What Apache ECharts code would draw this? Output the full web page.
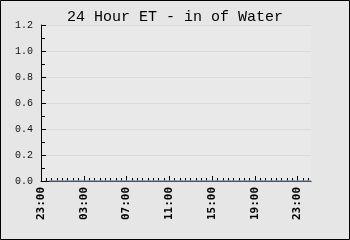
<!DOCTYPE html>
<html>
<head>
<meta charset="utf-8">
<script src="https://cdn.jsdelivr.net/npm/echarts@6/dist/echarts.min.js"></script>
<style>
html,body{margin:0;padding:0;background:#e6e6e6;}
#c{width:350px;height:240px;}
</style>
</head>
<body>
<div id="c"></div>
<script>
// Hours elapsed since 23:00 (axis start)
const timeHours = [0.75, 1.75, 2.75, 3.75, 4.75, 5.75, 6.75, 7.75, 8.75, 9.75, 10.75, 11.75, 12.75,
  13.75, 14.75, 15.75, 16.75, 17.75, 18.75, 19.75, 20.75, 21.75, 22.75, 23.75, 24.75, 25.25];
const etValues = [0, 0, 0, 0, 0, 0, 0, 0, 0, 0, 0, 0, 0,
  0, 0, 0, 0, 0, 0, 0, 0, 0, 0, 0, 0, 0];
const labelHours = [0, 4, 8, 12, 16, 20, 24];
const labelTexts = ['23:00', '03:00', '07:00', '11:00', '15:00', '19:00', '23:00'];
const minorTickHours = [0, 0.5, 1, 1.5, 2, 2.5, 3, 3.5, 4, 4.5, 5, 5.5, 6, 6.5, 7, 7.5, 8, 8.5, 9, 9.5,
  10, 10.5, 11, 11.5, 12, 12.5, 13, 13.5, 14, 14.5, 15, 15.5, 16, 16.5, 17, 17.5, 18, 18.5, 19, 19.5,
  20, 20.5, 21, 21.5, 22, 22.5, 23, 23.5, 24, 24.5, 25];
const xMin = 0, xMax = 25.25;
const yMin = 0, yMax = 1.2, yStep = 0.2;

const chart = echarts.init(document.getElementById('c'), null, {renderer: 'canvas'});
const mono = 'Liberation Mono, DejaVu Sans Mono, monospace';
chart.setOption({
  backgroundColor: '#e6e6e6',
  animation: false,
  title: {
    text: '24 Hour ET - in of Water',
    left: 'center', top: 5,
    textStyle: {fontFamily: mono, fontSize: 15, fontWeight: 'normal', color: '#000'}
  },
  grid: {left: 41, right: 39, top: 25, bottom: 59, show: true, backgroundColor: '#e9e9e9', borderWidth: 0},
  xAxis: [{
    type: 'value', min: xMin, max: xMax, position: 'bottom',
    axisLine: {show: true, onZero: false, lineStyle: {color: '#000', width: 1}},
    axisTick: {show: true, inside: true, length: 5, customValues: labelHours, lineStyle: {color: '#000'}},
    axisLabel: {
      show: true, rotate: 90, margin: 6, customValues: labelHours,
      fontFamily: 'DejaVu Sans Mono, monospace', fontSize: 11, fontWeight: 'bold', color: '#000',
      formatter: v => { const i = labelHours.indexOf(v); return i >= 0 ? labelTexts[i] : ''; }
    },
    splitLine: {show: false}
  }, {
    type: 'value', min: xMin, max: xMax, position: 'bottom',
    axisLine: {show: false},
    axisTick: {show: true, inside: true, length: 3, customValues: minorTickHours, lineStyle: {color: '#000'}},
    axisLabel: {show: false},
    splitLine: {show: false}
  }],
  yAxis: {
    type: 'value', min: yMin, max: yMax, interval: yStep,
    axisLine: {show: true, lineStyle: {color: '#000', width: 1}},
    axisTick: {show: true, inside: true, length: 5, lineStyle: {color: '#000'}},
    minorTick: {show: true, splitNumber: 2, length: 4, lineStyle: {color: '#000'}},
    axisLabel: {
      margin: 8, fontFamily: mono, fontSize: 10, color: '#111',
      formatter: v => v.toFixed(1)
    },
    splitLine: {show: true, lineStyle: {color: '#dadada', width: 1}}
  },
  series: [{
    type: 'line', xAxisIndex: 0, symbol: 'none', z: 5,
    data: timeHours.map((t, i) => [t, etValues[i]]),
    lineStyle: {color: '#8393a4', width: 1.5}
  }],
  graphic: [{
    type: 'rect', z: 100,
    shape: {x: 0.5, y: 0.5, width: 349, height: 239},
    style: {fill: null, stroke: '#000', lineWidth: 1}
  }]
});
</script>
</body>
</html>
